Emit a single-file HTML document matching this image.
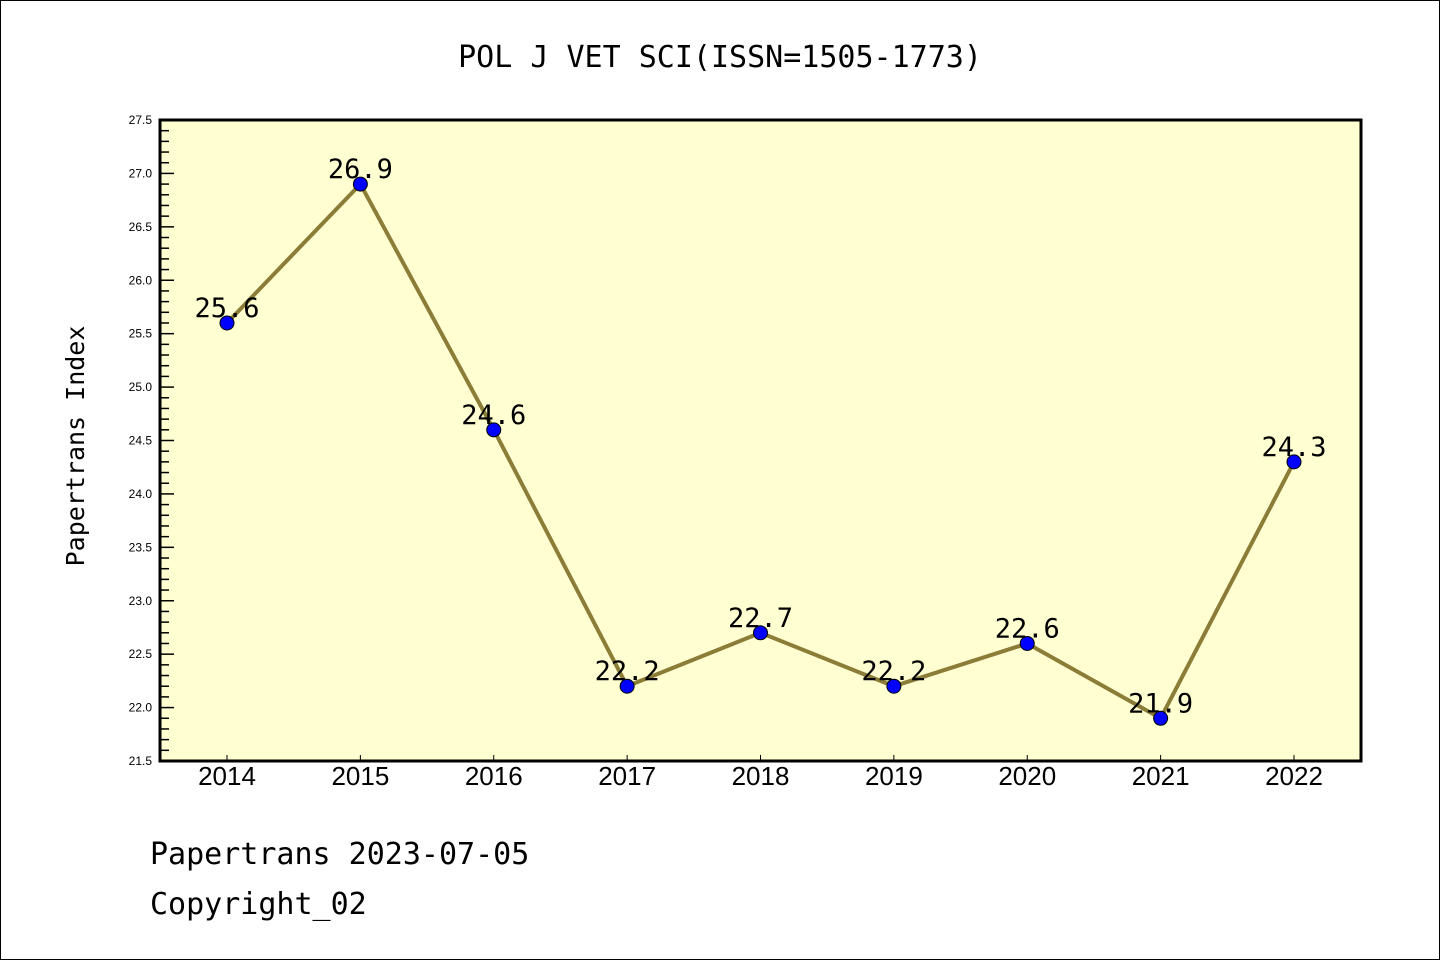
<!DOCTYPE html>
<html><head><meta charset="utf-8"><style>
body{margin:0;background:#fff}
svg{display:block;font-family:"Liberation Sans","DejaVu Sans",sans-serif}
</style></head><body>
<svg id="chart" width="1440" height="960" xmlns="http://www.w3.org/2000/svg">
<rect x="0.5" y="0.5" width="1439" height="959" fill="#fff" stroke="#000"/>
<text x="720" y="67" text-anchor="middle" font-size="30" font-family="'DejaVu Sans Mono','Liberation Mono',monospace">POL J VET SCI(ISSN=1505-1773)</text>
<rect x="160" y="120" width="1201" height="641" fill="#ffffd2"/>
<g id="ticks"></g>
<g id="series"></g>
<rect x="160" y="120" width="1201" height="641" fill="none" stroke="#000" stroke-width="3"/>
<text transform="translate(84,446) rotate(-90)" text-anchor="middle" font-size="25" font-family="'DejaVu Sans Mono','Liberation Mono',monospace">Papertrans Index</text>
<text x="150" y="864" font-size="30" font-family="'DejaVu Sans Mono','Liberation Mono',monospace">Papertrans 2023-07-05</text>
<text x="150" y="914" font-size="30" font-family="'DejaVu Sans Mono','Liberation Mono',monospace">Copyright_02</text>
</svg>
<script>
const years=["2014","2015","2016","2017","2018","2019","2020","2021","2022"];
const values=[25.6,26.9,24.6,22.2,22.7,22.2,22.6,21.9,24.3];
const yTickLabels=["21.5","22.0","22.5","23.0","23.5","24.0","24.5","25.0","25.5","26.0","26.5","27.0","27.5"];
const NS="http://www.w3.org/2000/svg";
const yMin=21.5,yMax=27.5,plotTop=120,plotBottom=761,plotLeft=160;
const xFirst=227,xLast=1294;
function xs(i){return xFirst+(xLast-xFirst)*i/(years.length-1);}
function ys(v){return plotBottom-(v-yMin)/(yMax-yMin)*(plotBottom-plotTop);}
function mk(tag,attrs,parent){const e=document.createElementNS(NS,tag);for(const k in attrs)e.setAttribute(k,attrs[k]);parent.appendChild(e);return e;}
const tg=document.getElementById('ticks');
for(let k=0;k<=60;k++){
  const v=yMin+k*0.1;const y=ys(v);const major=k%5===0;
  const t=mk('line',{x1:plotLeft,x2:plotLeft+(major?14:9),y1:y,y2:y,stroke:'#000','stroke-width':1.5},tg);
  
  
}
yTickLabels.forEach(s=>{
  const t=mk('text',{x:152,y:ys(parseFloat(s))+4,'text-anchor':'end','font-size':12},tg);
  t.textContent=s;
  
  
});
years.forEach((yr,i)=>{
  const l=mk('line',{x1:xs(i),x2:xs(i),y1:plotBottom,y2:plotBottom-6,stroke:'#000','stroke-width':1},tg);
  
  
  const t=mk('text',{x:xs(i),y:785,'text-anchor':'middle','font-size':26},tg);
  t.textContent=yr;
  
  
});
const sg=document.getElementById('series');
const pts=values.map((v,i)=>xs(i)+','+ys(v)).join(' ');
const line=mk('polyline',{points:pts,fill:'none',stroke:'#8b7d37','stroke-width':4,'stroke-linejoin':'round'},sg);


values.forEach((v,i)=>{
  const c=mk('circle',{cx:xs(i),cy:ys(v),r:7,fill:'#0000ff',stroke:'#000','stroke-width':1},sg);
  
  
  const t=mk('text',{x:xs(i),y:ys(v)-6,'text-anchor':'middle','font-size':27,'font-family':"'DejaVu Sans Mono','Liberation Mono',monospace"},sg);
  t.textContent=v.toFixed(1);
  
  
});
</script>
</body></html>
